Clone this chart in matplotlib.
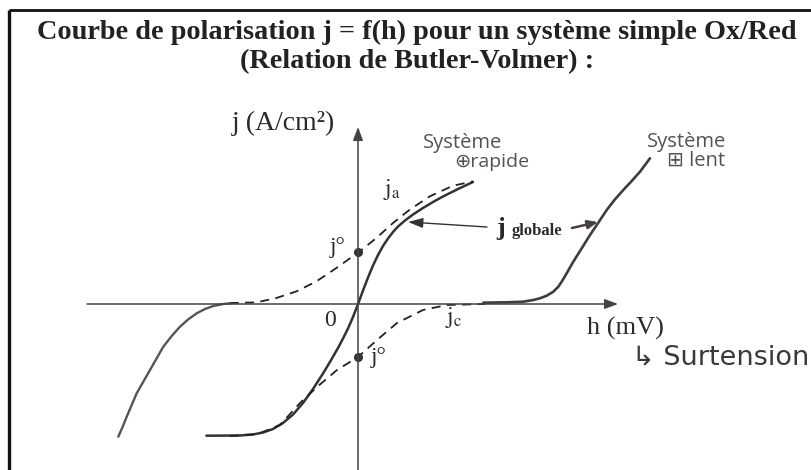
import matplotlib
matplotlib.use("Agg")
import matplotlib.pyplot as plt
from matplotlib.lines import Line2D

plt.rcParams["mathtext.fontset"] = "stix"

# Overpotential h (arbitrary mV units) and current density j (arbitrary A/cm2 units)
# Fast system: global curve j = ja + jc
h_fast = [-15.16, -11.83, -10.5, -9.5, -8.5, -7.5, -6.5, -5.5, -4.5, -3.5, -2.66, -2.0,
          -1.5, -1.0, -0.5, 0.0, 0.5, 1.0, 1.5, 2.0, 2.5, 3.0, 3.5, 4.0, 4.7, 5.5, 6.5,
          7.5, 8.5, 10.0, 11.5]
j_fast = [-13.17, -13.15, -13.05, -12.85, -12.5, -11.9, -11.05, -9.9, -8.5, -6.95, -5.55,
          -4.4, -3.45, -2.45, -1.3, 0.0, 1.35, 2.65, 3.85, 4.9, 5.8, 6.55, 7.2, 7.75, 8.35,
          8.95, 9.6, 10.2, 10.75, 11.5, 12.2]

# Anodic partial current ja
h_ja = [-12.83, -10.16, -8.16, -6.16, -4.16, -2.16, 0.17, 1.84, 3.5, 5.17, 7.17, 9.5, 11.5]
j_ja = [0.1, 0.16, 0.6, 1.26, 2.26, 3.6, 5.26, 6.6, 8.1, 9.43, 10.76, 11.83, 12.26]

# Cathodic partial current jc
h_jc = [-12.8, -10.0, -7.8, -5.8, -4.1, -2.1, 0.0, 1.9, 3.9, 6.5, 8.9, 12.7]
j_jc = [-13.2, -13.0, -12.1, -9.9, -8.3, -6.6, -5.3, -3.6, -1.9, -0.6, -0.1, 0.0]

# Slow system: cathodic branch
h_slow_c = [-12.8, -13.47, -14.47, -15.3, -16.13, -16.97, -17.8, -18.63, -19.47, -20.13,
            -20.8, -21.47, -22.13, -22.63, -23.13, -23.53, -23.97]
j_slow_c = [0.07, 0.0, -0.2, -0.5, -0.93, -1.53, -2.27, -3.2, -4.27, -5.43,
            -6.6, -7.77, -8.93, -10.1, -11.27, -12.27, -13.27]

# Slow system: anodic branch
h_slow_a = [12.53, 14.87, 16.53, 17.53, 18.2, 18.87, 19.53, 20.03, 20.37, 20.87, 21.53,
            22.37, 23.2, 24.03, 24.87, 25.7, 26.53, 27.37, 28.2, 28.7, 29.2]
j_slow_a = [0.13, 0.17, 0.23, 0.4, 0.57, 0.83, 1.23, 1.73, 2.23, 3.07, 4.23,
            5.57, 6.9, 8.13, 9.4, 10.47, 11.4, 12.3, 13.23, 13.9, 14.57]

# Exchange current density marked on the j axis
j0_values = [5.2, -5.3]

title_lines = ["Courbe de polarisation j = f(h) pour un système simple Ox/Red",
               "(Relation de Butler-Volmer) :"]

W, H = 812, 470
fig = plt.figure(figsize=(W / 100, H / 100), dpi=100)
fig.patch.set_facecolor("white")

ax = fig.add_axes([0, 0, 1, 1])
ax.set_xlim(-35.8, 45.4)
ax.set_ylim(-16.6, 30.4)
ax.axis("off")

# Frame
fig.add_artist(Line2D([9.5 / W, 9.5 / W], [0, 1 - 9.5 / H], transform=fig.transFigure,
                      color="#111111", lw=2.4, solid_capstyle="butt"))
fig.add_artist(Line2D([9.5 / W, 1.0], [1 - 9.5 / H, 1 - 9.5 / H], transform=fig.transFigure,
                      color="#111111", lw=2.0, solid_capstyle="butt"))

# Title
serif = ["Liberation Serif", "DejaVu Serif"]
renderer = fig.canvas.get_renderer()
t1 = fig.text(417 / W, 1 - 32 / H, title_lines[0], ha="center", va="center",
              family=serif, weight="bold", fontsize=20, color="#222222")
bb = t1.get_window_extent(renderer)
t1.set_fontsize(20 * 760 / bb.width)
fig.text(417 / W, 1 - 62 / H, title_lines[1], ha="center", va="center",
         family=serif, weight="bold", fontsize=t1.get_fontsize(), color="#222222")

axis_col = "#444444"
# Axes with arrow heads
ax.annotate("", xy=(26.0, 0), xytext=(-27.1, 0),
            arrowprops=dict(arrowstyle="-|>,head_length=0.8,head_width=0.3",
                            color=axis_col, lw=1.1, shrinkA=0, shrinkB=0))
ax.annotate("", xy=(0, 17.7), xytext=(0, -16.6),
            arrowprops=dict(arrowstyle="-|>,head_length=0.8,head_width=0.3",
                            color=axis_col, lw=1.1, shrinkA=0, shrinkB=0))

curve_col = "#333333"
ax.plot(h_fast, j_fast, color=curve_col, lw=1.8, solid_joinstyle="round",
        solid_capstyle="round")
ax.plot(h_ja, j_ja, color="#222222", lw=1.3, ls=(0, (5, 3.5)))
ax.plot(h_jc, j_jc, color="#222222", lw=1.3, ls=(0, (5, 3.5)))
ax.plot(h_slow_c, j_slow_c, color="#555555", lw=1.7, solid_joinstyle="round",
        solid_capstyle="round")
ax.plot(h_slow_a, j_slow_a, color="#3d3d3d", lw=1.9, solid_joinstyle="round",
        solid_capstyle="round")
ax.plot([0, 0], j0_values, "o", color="#333333", ms=5.5)

txt = "#2a2a2a"
ax.text(-7.5, 18.1, "j (A/cm²)", family=serif, fontsize=20, color=txt,
        ha="center", va="center")
ax.text(-2.8, -1.7, "0", family=serif, fontsize=17, color=txt, ha="center", va="center")
ax.text(26.7, -2.4, "h (mV)", family=serif, fontsize=19, color=txt,
        ha="center", va="center")
ax.text(3.4, 11.4, r"$\mathrm{j}_{\mathrm{a}}$", fontsize=17, color=txt,
        ha="center", va="center")
ax.text(9.6, -1.4, r"$\mathrm{j}_{\mathrm{c}}$", fontsize=17, color=txt,
        ha="center", va="center")
ax.text(-2.0, 5.7, "j°", family=serif, fontsize=17, color=txt, ha="center", va="center")
ax.text(2.1, -5.3, "j°", family=serif, fontsize=17, color=txt, ha="center", va="center")

# j globale label and arrow
ax.text(14.3, 7.5, "j", family=serif, weight="bold", fontsize=19, color=txt,
        ha="center", va="center")
ax.text(15.4, 7.3, "globale", family=serif, weight="bold", fontsize=12, color=txt,
        ha="left", va="center")
ax.annotate("", xy=(5.0, 8.2), xytext=(12.9, 7.7),
            arrowprops=dict(arrowstyle="-|>,head_length=0.9,head_width=0.3",
                            color="#333333", lw=1.0, shrinkA=0, shrinkB=0))

# Handwritten annotations
hand = "#555055"
hand_font = ["Open Sans", "DejaVu Sans"]
ax.annotate("", xy=(24.0, 8.2), xytext=(21.4, 7.6),
            arrowprops=dict(arrowstyle="-|>,head_length=0.6,head_width=0.25",
                            color="#444044", lw=1.8, shrinkA=0, shrinkB=0))
ax.text(6.5, 16.1, "Système", family=hand_font, fontsize=14.5, color=hand,
        ha="left", va="center")
ax.text(9.6, 14.2, "⊕rapide", family=hand_font, fontsize=14, color=hand,
        ha="left", va="center")
ax.text(28.9, 16.2, "Système", family=hand_font, fontsize=14.5, color=hand,
        ha="left", va="center")
ax.text(30.9, 14.3, "⊞ lent", family=hand_font, fontsize=14.5, color=hand,
        ha="left", va="center")
ax.text(27.4, -5.3, "↳ Surtension", family=["DejaVu Sans"], fontsize=19.5, color="#3a3a3a",
        ha="left", va="center")

fig.savefig("out.png", dpi=100, facecolor="white")
